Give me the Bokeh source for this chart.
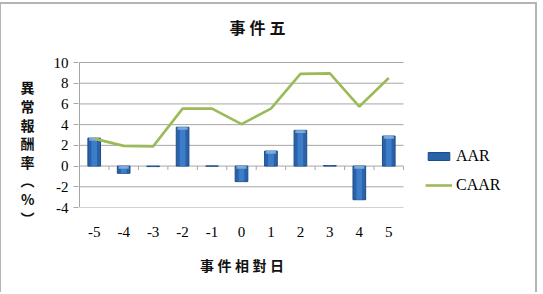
from bokeh.plotting import figure
from bokeh.models import Legend, LegendItem, FixedTicker, Range1d, Label
from bokeh.embed import file_html
from bokeh.resources import INLINE

# ---- data ----
days = [-5, -4, -3, -2, -1, 0, 1, 2, 3, 4, 5]
aar = [2.7, -0.7, -0.05, 3.75, 0.0, -1.5, 1.45, 3.45, 0.05, -3.25, 2.9]
caar = [2.65, 1.95, 1.9, 5.55, 5.55, 4.05, 5.55, 8.9, 8.95, 5.75, 8.5]
y_ticks = [-4, -2, 0, 2, 4, 6, 8, 10]
title_chars = ["事", "件", "五"]
x_label_chars = ["事", "件", "相", "對", "日"]
y_label_chars = ["異", "常", "報", "酬", "率", "︵", "%", "︶"]

SERIF = "Liberation Serif"
CJK = "Noto Sans CJK TC"
GRID = "#a6a6a6"

W, H = 537, 290
FL, FB = 77, 203          # frame left / bottom in canvas px (frame top is canvas top)
DATA_L, DATA_T = 78, 58   # where the data area starts (left) and its top, canvas px
PLOT_W = 324              # width of the data area in px
x0 = days[0] - 0.5
x1 = days[-1] + 0.5
ux = PLOT_W / (x1 - x0)
y_lo, y_hi = min(y_ticks), max(y_ticks)
uy = (FB - DATA_T) / (y_hi - y_lo)

p = figure(width=W, height=H, output_backend="svg", toolbar_location=None,
           x_range=Range1d(x0 - (DATA_L - FL) / ux, x0 + (W - DATA_L) / ux),
           y_range=Range1d(y_lo, y_hi + DATA_T / uy),
           min_border_left=FL, min_border_top=0,
           min_border_right=0, min_border_bottom=H - FB)
p.styles = {"border-top": "2px solid #b4b4b4", "border-left": "1px solid #b4b4b4",
            "border-right": "2px solid #b4b4b4", "margin-top": "2px"}
p.title.visible = False
p.outline_line_color = None
p.background_fill_color = "white"
p.border_fill_color = "white"

# title, drawn inside the (extended) frame
p.add_layout(Label(x=x0 + (256 - DATA_L) / ux, y=y_hi + (DATA_T - 22) / uy,
                   text="\u2005".join(title_chars), text_align="center",
                   text_baseline="middle", text_font=CJK, text_font_style="bold",
                   text_font_size="16px", text_color="#111111"))

# grid (drawn only across the data area) and y axis line
p.xgrid.grid_line_color = None
p.ygrid.grid_line_color = None
p.segment(x0=[x0] * len(y_ticks), y0=y_ticks, x1=[x1] * len(y_ticks), y1=y_ticks,
          line_color=GRID, line_width=1)
p.segment(x0=[x0], y0=[y_lo], x1=[x0], y1=[y_hi], line_color=GRID, line_width=1)

# y axis
p.yaxis.ticker = FixedTicker(ticks=y_ticks)
p.yaxis.major_label_overrides = {t: str(t) for t in y_ticks}
p.yaxis.axis_line_color = None
p.yaxis.major_tick_line_color = GRID
p.yaxis.major_tick_out = 5
p.yaxis.major_tick_in = 0
p.yaxis.minor_tick_line_color = None
p.yaxis.major_label_standoff = 5
p.yaxis.major_label_text_font = SERIF
p.yaxis.major_label_text_font_size = "15px"
p.yaxis.major_label_text_color = "black"
p.yaxis.axis_label = "\n".join(["\u3000"] * 5 + y_label_chars)
p.yaxis.axis_label_orientation = "horizontal"
p.yaxis.axis_label_standoff = 16
p.yaxis.axis_label_text_font = CJK
p.yaxis.axis_label_text_font_style = "bold"
p.yaxis.axis_label_text_font_size = "14px"
p.yaxis.axis_label_text_line_height = 0.93
p.yaxis.axis_label_text_color = "#111111"

# x axis
p.xaxis.ticker = FixedTicker(ticks=days)
p.xaxis.major_label_overrides = {d: str(d) for d in days}
p.xaxis.axis_line_color = None
p.xaxis.major_tick_line_color = None
p.xaxis.minor_tick_line_color = None
p.xaxis.major_tick_out = 0
p.xaxis.major_label_standoff = 19
p.xaxis.major_label_text_font = SERIF
p.xaxis.major_label_text_font_size = "15px"
p.xaxis.major_label_text_color = "black"
# trailing ideographic spaces move the centred label over the data area
p.xaxis.axis_label = "\u2005".join(x_label_chars) + "\u3000" * 9 + "\u2002"
p.xaxis.axis_label_standoff = 15
p.xaxis.axis_label_text_font = CJK
p.xaxis.axis_label_text_font_style = "bold"
p.xaxis.axis_label_text_font_size = "14px"
p.xaxis.axis_label_text_color = "#111111"

# category boundary ticks on zero line
bounds = [d + 0.5 for d in days]
p.segment(x0=bounds, y0=[0] * len(bounds), x1=bounds, y1=[-0.38] * len(bounds),
          line_color=GRID, line_width=1)

# bars
bw = 0.43
bars = p.vbar(x=days, top=aar, bottom=0, width=bw, fill_color="#2a62a8",
              line_color="#1d4c88", line_width=1)
p.vbar(x=days, top=aar, bottom=0, width=bw * 0.45, fill_color="#3f80cc",
       line_color=None, fill_alpha=0.9)
# highlight cap at the upper end of every bar
cap_top = [max(a, 0) if abs(a) > 0.3 else a for a in aar]
cap_bot = [t - 0.25 if abs(a) > 0.3 else a for a, t in zip(aar, cap_top)]
p.vbar(x=days, top=cap_top, bottom=cap_bot, width=bw * 0.8, fill_color="#8db8e6",
       line_color=None, fill_alpha=0.8)

# line
line = p.line(days, caar, line_color="#9bbb59", line_width=2.6)

legend = Legend(items=[LegendItem(label="AAR", renderers=[bars]),
                       LegendItem(label="CAAR", renderers=[line])],
                location=(347, 13), orientation="vertical",
                glyph_width=27, glyph_height=10, label_height=16,
                spacing=11, padding=0, margin=0, label_standoff=4,
                border_line_color=None, background_fill_alpha=0,
                label_text_font=SERIF, label_text_font_size="16px",
                label_text_color="black")
p.add_layout(legend)

open("out.html", "w").write(file_html(p, INLINE))
